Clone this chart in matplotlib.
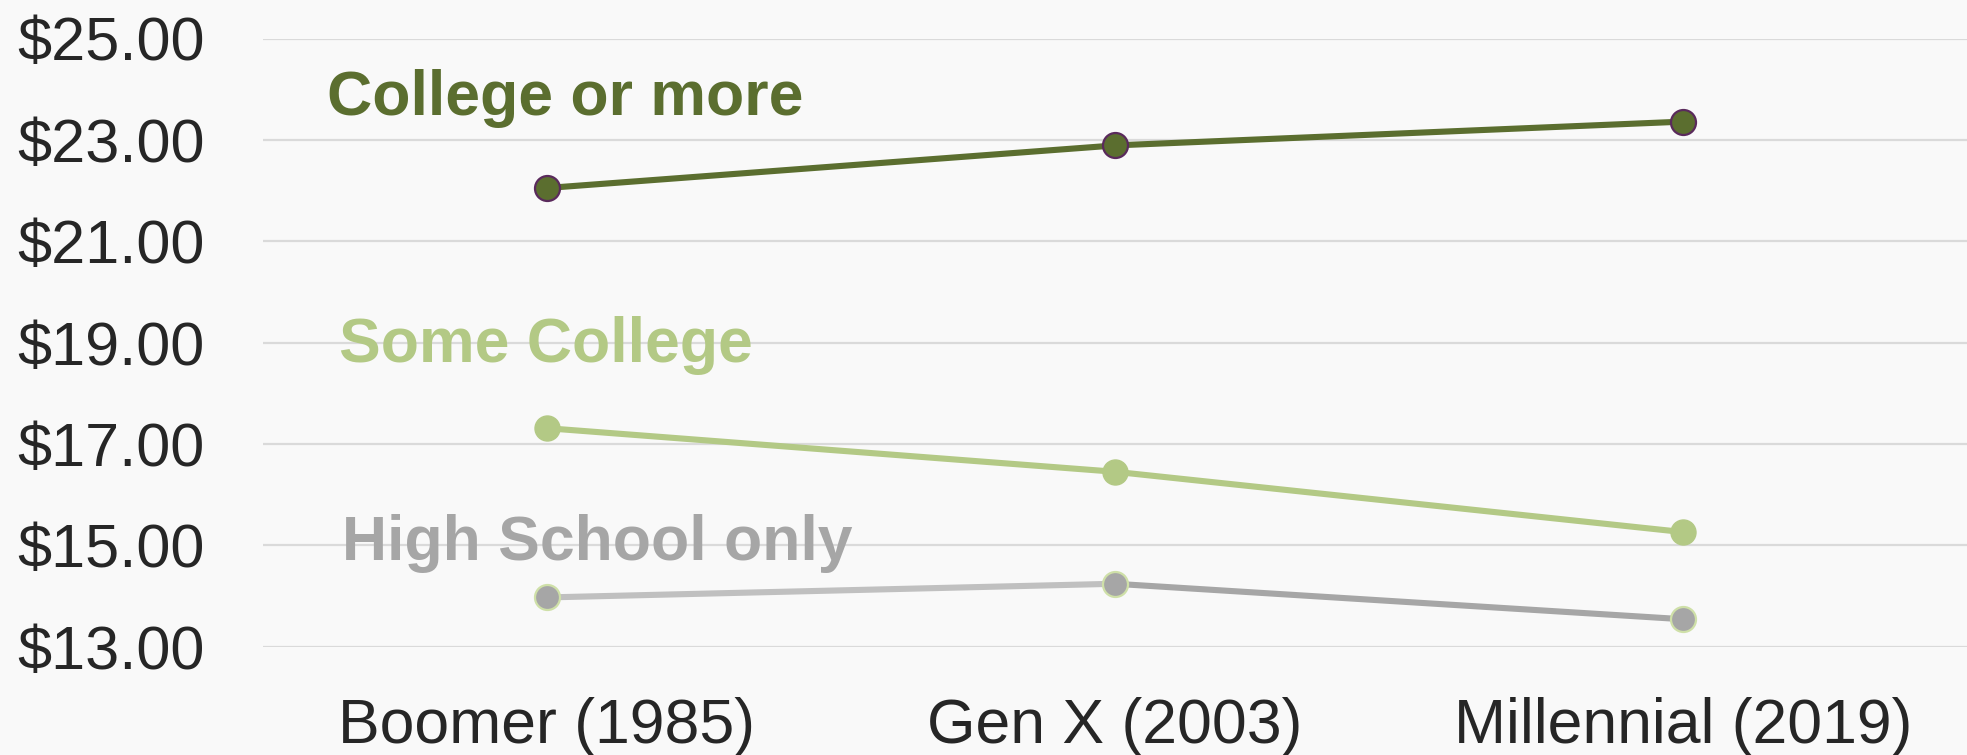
import matplotlib
matplotlib.use("Agg")
import matplotlib.pyplot as plt
from matplotlib.ticker import FuncFormatter

# ---- data ----
categories = ["Boomer (1985)", "Gen X (2003)", "Millennial (2019)"]
college_or_more = [22.05, 22.89, 23.36]
some_college = [17.31, 16.45, 15.26]
high_school_only = [13.97, 14.24, 13.54]
series_names = ["College or more", "Some College", "High School only"]
y_ticks = [13, 15, 17, 19, 21, 23, 25]

plt.rcParams['font.family'] = ['Liberation Sans', 'DejaVu Sans']

W, H = 1967, 755
fig = plt.figure(figsize=(W / 100, H / 100), dpi=100)
fig.patch.set_facecolor('#F9F9F9')

ax = fig.add_axes([263 / W, 1 - 646.6 / H, 1 - 263 / W, (646.6 - 38.5) / H])
ax.set_facecolor('none')

x = list(range(len(categories)))

dark = '#5B6E2F'
light = '#B3C985'
grey = '#A6A6A6'
grey_light = '#C0C0C0'
LW = 4.4
MS = 18

# College or more
ax.plot(x, college_or_more, color=dark, lw=LW, marker='o', markersize=MS,
        markerfacecolor=dark, markeredgecolor='#5A2A5C', markeredgewidth=1.6,
        zorder=5, solid_capstyle='butt')
# Some College
ax.plot(x, some_college, color=light, lw=LW, marker='o', markersize=MS,
        markerfacecolor=light, markeredgecolor=light, markeredgewidth=1.0,
        zorder=5, solid_capstyle='butt')
# High School only (first segment lighter)
ax.plot(x[:2], high_school_only[:2], color=grey_light, lw=LW, zorder=4,
        solid_capstyle='butt')
ax.plot(x[1:], high_school_only[1:], color=grey, lw=LW, zorder=4,
        solid_capstyle='butt')
ax.plot(x, high_school_only, linestyle='none', marker='o', markersize=MS,
        markerfacecolor=grey, markeredgecolor='#CFE0A8', markeredgewidth=1.6,
        zorder=5)

ax.set_xlim(-0.5, len(categories) - 0.5)
ax.set_ylim(13, 25)
ax.set_yticks(y_ticks)
ax.yaxis.set_major_formatter(FuncFormatter(lambda v, p: f"${v:.2f}"))
ax.set_xticks(x)
ax.set_xticklabels(categories)

ax.grid(axis='y', color='#DADADA', lw=1.6, zorder=0)
ax.grid(axis='x', visible=False)
for s in ax.spines.values():
    s.set_visible(False)
ax.tick_params(axis='both', length=0, colors='#262626')
ax.tick_params(axis='y', labelsize=44, pad=42)
ax.tick_params(axis='x', labelsize=45, pad=36)
ax.set_axisbelow(True)

# series labels
fig.text(327 / W, 1 - 115 / H, series_names[0], color=dark, fontsize=45,
         fontweight='bold', va='baseline', ha='left')
fig.text(339 / W, 1 - 362 / H, series_names[1], color=light, fontsize=45,
         fontweight='bold', va='baseline', ha='left')
fig.text(342 / W, 1 - 560 / H, series_names[2], color=grey, fontsize=45,
         fontweight='bold', va='baseline', ha='left')

fig.savefig('out.png', dpi=100, facecolor=fig.get_facecolor())
